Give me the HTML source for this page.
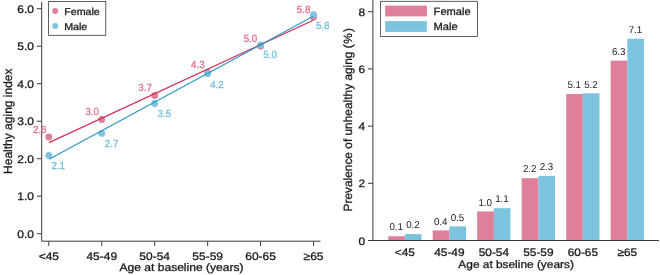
<!DOCTYPE html><html><head><meta charset="utf-8"><title>chart</title><style>
html,body{margin:0;padding:0;background:#fff;}svg{display:block}text{font-family:"Liberation Sans",sans-serif;stroke-width:0.3px;stroke-linejoin:round;text-rendering:geometricPrecision}
</style></head><body>
<svg width="660" height="275" viewBox="0 0 660 275">
<defs><filter id="soft" x="0" y="0" width="660" height="275" filterUnits="userSpaceOnUse"><feGaussianBlur stdDeviation="0.38"/></filter></defs>
<rect width="660" height="275" fill="#fff"/>
<g filter="url(#soft)">
<g stroke="#3a3a3a" stroke-width="1" fill="none">
<path d="M41.7 2 V241.2 H320.5"/>
<path d="M36.8 233.70 H41.7"/>
<path d="M36.8 196.20 H41.7"/>
<path d="M36.8 158.70 H41.7"/>
<path d="M36.8 121.20 H41.7"/>
<path d="M36.8 83.70 H41.7"/>
<path d="M36.8 46.20 H41.7"/>
<path d="M36.8 8.70 H41.7"/>
<path d="M48.80 241.2 V246"/>
<path d="M101.75 241.2 V246"/>
<path d="M154.70 241.2 V246"/>
<path d="M207.65 241.2 V246"/>
<path d="M260.60 241.2 V246"/>
<path d="M313.55 241.2 V246"/>
</g>
<g font-size="12" fill="#1a1a1a" stroke="#1a1a1a" text-anchor="end">
<text transform="translate(33.90 237.70) scale(1.09 1)" font-size="11" text-anchor="end">0.0</text>
<text transform="translate(33.90 200.20) scale(1.09 1)" font-size="11" text-anchor="end">1.0</text>
<text transform="translate(33.90 162.70) scale(1.09 1)" font-size="11" text-anchor="end">2.0</text>
<text transform="translate(33.90 125.20) scale(1.09 1)" font-size="11" text-anchor="end">3.0</text>
<text transform="translate(33.90 87.70) scale(1.09 1)" font-size="11" text-anchor="end">4.0</text>
<text transform="translate(33.90 50.20) scale(1.09 1)" font-size="11" text-anchor="end">5.0</text>
<text transform="translate(33.90 12.70) scale(1.09 1)" font-size="11" text-anchor="end">6.0</text>
</g>
<g font-size="12" fill="#1a1a1a" stroke="#1a1a1a" text-anchor="middle">
<text transform="translate(48.80 259.50) scale(1.09 1)" font-size="11" text-anchor="middle">&lt;45</text>
<text transform="translate(101.75 259.50) scale(1.09 1)" font-size="11" text-anchor="middle">45-49</text>
<text transform="translate(154.70 259.50) scale(1.09 1)" font-size="11" text-anchor="middle">50-54</text>
<text transform="translate(207.65 259.50) scale(1.09 1)" font-size="11" text-anchor="middle">55-59</text>
<text transform="translate(260.60 259.50) scale(1.09 1)" font-size="11" text-anchor="middle">60-65</text>
<text transform="translate(313.55 259.50) scale(1.09 1)" font-size="11" text-anchor="middle">≥65</text>
<text transform="translate(181.50 271.20) scale(1.095 1)" font-size="11" text-anchor="middle">Age at baseline (years)</text>
<text transform="translate(11.6 121.2) rotate(-90)">Healthy aging index</text>
</g>
<circle cx="48.80" cy="137.0" r="3.4" fill="#E07F9A"/>
<circle cx="101.75" cy="119.5" r="3.4" fill="#E07F9A"/>
<circle cx="154.70" cy="95.5" r="3.4" fill="#E07F9A"/>
<circle cx="207.65" cy="72.5" r="3.4" fill="#E07F9A"/>
<circle cx="260.60" cy="46.3" r="3.4" fill="#E07F9A"/>
<circle cx="313.55" cy="17.2" r="3.4" fill="#E07F9A"/>
<circle cx="48.80" cy="155.4" r="3.4" fill="#7CC3DE"/>
<circle cx="101.75" cy="133.4" r="3.4" fill="#7CC3DE"/>
<circle cx="154.70" cy="103.5" r="3.4" fill="#7CC3DE"/>
<circle cx="207.65" cy="73.7" r="3.4" fill="#7CC3DE"/>
<circle cx="260.60" cy="44.9" r="3.4" fill="#7CC3DE"/>
<circle cx="313.55" cy="14.6" r="3.4" fill="#7CC3DE"/>
<path d="M49 142.6 L313.3 20.3" stroke="#D62D57" stroke-width="1.25" fill="none"/>
<path d="M49 159.3 L313.3 16.3" stroke="#2F97C9" stroke-width="1.25" fill="none"/>
<g fill="#E5718F" stroke="#E5718F" stroke-width="0.3">
<text transform="translate(32.90 132.70) scale(0.945 1)" font-size="10.3" text-anchor="start">2.6</text>
<text transform="translate(85.50 115.40) scale(0.945 1)" font-size="10.3" text-anchor="start">3.0</text>
<text transform="translate(138.30 91.20) scale(0.945 1)" font-size="10.3" text-anchor="start">3.7</text>
<text transform="translate(191.10 68.40) scale(0.945 1)" font-size="10.3" text-anchor="start">4.3</text>
<text transform="translate(243.70 42.20) scale(0.945 1)" font-size="10.3" text-anchor="start">5.0</text>
<text transform="translate(296.80 13.40) scale(0.945 1)" font-size="10.3" text-anchor="start">5.8</text>
</g>
<g fill="#74BFE0" stroke="#74BFE0" stroke-width="0.3">
<text transform="translate(51.50 168.50) scale(0.945 1)" font-size="10.3" text-anchor="start">2.1</text>
<text transform="translate(104.80 146.70) scale(0.945 1)" font-size="10.3" text-anchor="start">2.7</text>
<text transform="translate(157.60 117.20) scale(0.945 1)" font-size="10.3" text-anchor="start">3.5</text>
<text transform="translate(210.20 87.70) scale(0.945 1)" font-size="10.3" text-anchor="start">4.2</text>
<text transform="translate(263.30 57.50) scale(0.945 1)" font-size="10.3" text-anchor="start">5.0</text>
<text transform="translate(315.90 28.70) scale(0.945 1)" font-size="10.3" text-anchor="start">5.8</text>
</g>
<rect x="48.6" y="1.5" width="57.2" height="33.8" fill="#fff" stroke="#3a3a3a" stroke-width="0.8"/>
<circle cx="55.2" cy="10.9" r="3" fill="#E07F9A"/><circle cx="55.2" cy="25.9" r="3" fill="#7CC3DE"/>
<g fill="#1a1a1a" stroke="#1a1a1a"><text transform="translate(64.20 14.50) scale(1.065 1)" font-size="10.0" text-anchor="start">Female</text><text transform="translate(64.20 29.70) scale(1.065 1)" font-size="10.0" text-anchor="start">Male</text></g>
<g stroke="#3a3a3a" stroke-width="1" fill="none">
<path d="M372.9 0 V240.5"/>
<path d="M368 240.50 H372.9"/>
<path d="M368 183.30 H372.9"/>
<path d="M368 126.10 H372.9"/>
<path d="M368 68.90 H372.9"/>
<path d="M368 11.70 H372.9"/>
</g>
<g font-size="11.9" fill="#1a1a1a" stroke="#1a1a1a" text-anchor="end">
<text transform="translate(365.20 244.50) scale(1.09 1)" font-size="10.9" text-anchor="end">0</text>
<text transform="translate(365.20 187.30) scale(1.09 1)" font-size="10.9" text-anchor="end">2</text>
<text transform="translate(365.20 130.10) scale(1.09 1)" font-size="10.9" text-anchor="end">4</text>
<text transform="translate(365.20 72.90) scale(1.09 1)" font-size="10.9" text-anchor="end">6</text>
<text transform="translate(365.20 15.70) scale(1.09 1)" font-size="10.9" text-anchor="end">8</text>
</g>
<rect x="388.20" y="236.2" width="16.65" height="4.30" fill="#E07F9A"/>
<rect x="404.85" y="234.1" width="16.65" height="6.40" fill="#7CC3DE"/>
<rect x="432.70" y="230.4" width="16.65" height="10.10" fill="#E07F9A"/>
<rect x="449.35" y="226.4" width="16.65" height="14.10" fill="#7CC3DE"/>
<rect x="477.20" y="211.4" width="16.65" height="29.10" fill="#E07F9A"/>
<rect x="493.85" y="208.2" width="16.65" height="32.30" fill="#7CC3DE"/>
<rect x="521.70" y="178.2" width="16.65" height="62.30" fill="#E07F9A"/>
<rect x="538.35" y="175.9" width="16.65" height="64.60" fill="#7CC3DE"/>
<rect x="566.20" y="94.0" width="16.65" height="146.50" fill="#E07F9A"/>
<rect x="582.85" y="93.3" width="16.65" height="147.20" fill="#7CC3DE"/>
<rect x="610.70" y="60.6" width="16.65" height="179.90" fill="#E07F9A"/>
<rect x="627.35" y="38.7" width="16.65" height="201.80" fill="#7CC3DE"/>
<path d="M368 240.5 H659" stroke="#3a3a3a" stroke-width="1" fill="none"/>
<g fill="#222" stroke="none">
<text transform="translate(396.22 230.30) scale(0.98 1)" font-size="10.0" text-anchor="middle">0.1</text>
<text transform="translate(412.98 228.30) scale(0.98 1)" font-size="10.0" text-anchor="middle">0.2</text>
<text transform="translate(440.72 224.50) scale(0.98 1)" font-size="10.0" text-anchor="middle">0.4</text>
<text transform="translate(457.48 220.60) scale(0.98 1)" font-size="10.0" text-anchor="middle">0.5</text>
<text transform="translate(485.22 205.50) scale(0.98 1)" font-size="10.0" text-anchor="middle">1.0</text>
<text transform="translate(501.98 202.40) scale(0.98 1)" font-size="10.0" text-anchor="middle">1.1</text>
<text transform="translate(529.73 172.30) scale(0.98 1)" font-size="10.0" text-anchor="middle">2.2</text>
<text transform="translate(546.48 170.10) scale(0.98 1)" font-size="10.0" text-anchor="middle">2.3</text>
<text transform="translate(574.23 88.10) scale(0.98 1)" font-size="10.0" text-anchor="middle">5.1</text>
<text transform="translate(590.98 87.50) scale(0.98 1)" font-size="10.0" text-anchor="middle">5.2</text>
<text transform="translate(618.73 54.70) scale(0.98 1)" font-size="10.0" text-anchor="middle">6.3</text>
<text transform="translate(635.48 32.90) scale(0.98 1)" font-size="10.0" text-anchor="middle">7.1</text>
</g>
<g font-size="11.9" fill="#1a1a1a" stroke="#1a1a1a" text-anchor="middle">
<text transform="translate(404.85 255.50) scale(1.09 1)" font-size="10.9" text-anchor="middle">&lt;45</text>
<text transform="translate(449.35 255.50) scale(1.09 1)" font-size="10.9" text-anchor="middle">45-49</text>
<text transform="translate(493.85 255.50) scale(1.09 1)" font-size="10.9" text-anchor="middle">50-54</text>
<text transform="translate(538.35 255.50) scale(1.09 1)" font-size="10.9" text-anchor="middle">55-59</text>
<text transform="translate(582.85 255.50) scale(1.09 1)" font-size="10.9" text-anchor="middle">60-65</text>
<text transform="translate(627.35 255.50) scale(1.09 1)" font-size="10.9" text-anchor="middle">≥65</text>
<text transform="translate(516.10 267.60) scale(1.09 1)" font-size="10.9" text-anchor="middle">Age at bseline (years)</text>
<text transform="translate(352 211.5) rotate(-90)" text-anchor="start">Prevalence of unhealthy aging (<tspan dx="0.6">%</tspan><tspan dx="1.0">)</tspan></text>
</g>
<rect x="380.6" y="1.3" width="96.9" height="35.2" fill="#fff" stroke="#3a3a3a" stroke-width="0.8"/>
<rect x="385.2" y="5.6" width="41.7" height="10.8" fill="#E07F9A"/><rect x="385.2" y="21.1" width="41.7" height="10.8" fill="#7CC3DE"/>
<g fill="#1a1a1a" stroke="#1a1a1a"><text transform="translate(433.60 14.60) scale(1.06 1)" font-size="10.5" text-anchor="start">Female</text><text transform="translate(433.60 30.10) scale(1.06 1)" font-size="10.5" text-anchor="start">Male</text></g>
</g></svg></body></html>
